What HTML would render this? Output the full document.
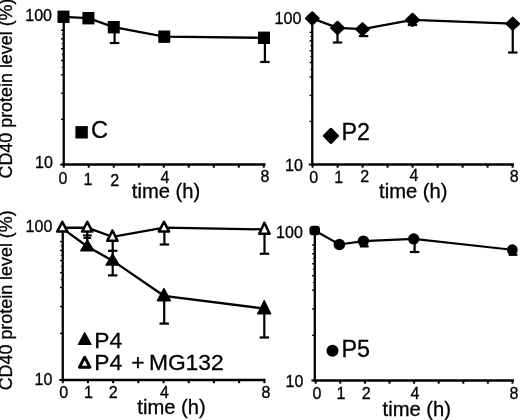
<!DOCTYPE html>
<html><head><meta charset="utf-8"><title>CD40 protein level</title>
<style>
html,body{margin:0;padding:0;background:#fff;}
body{width:520px;height:420px;overflow:hidden;}
svg{display:block;filter:blur(0.35px);}
svg text{font-family:"Liberation Sans", Arial, Helvetica, sans-serif;fill:#000;stroke:#000;stroke-width:0.3px;}
</style></head><body>
<svg width="520" height="420" viewBox="0 0 520 420">
<rect width="520" height="420" fill="#fff"/>
<line x1="63.75" y1="16" x2="63.75" y2="165.5" stroke="#000" stroke-width="2.3" />
<line x1="62.75" y1="164.5" x2="265.5" y2="164.5" stroke="#000" stroke-width="2.3" />
<line x1="63.75" y1="164.5" x2="63.75" y2="167.7" stroke="#000" stroke-width="2" />
<line x1="88.75" y1="164.5" x2="88.75" y2="167.7" stroke="#000" stroke-width="2" />
<line x1="113.75" y1="164.5" x2="113.75" y2="167.7" stroke="#000" stroke-width="2" />
<line x1="138.75" y1="164.5" x2="138.75" y2="167.7" stroke="#000" stroke-width="2" />
<line x1="163.75" y1="164.5" x2="163.75" y2="167.7" stroke="#000" stroke-width="2" />
<line x1="188.75" y1="164.5" x2="188.75" y2="167.7" stroke="#000" stroke-width="2" />
<line x1="213.75" y1="164.5" x2="213.75" y2="167.7" stroke="#000" stroke-width="2" />
<line x1="238.75" y1="164.5" x2="238.75" y2="167.7" stroke="#000" stroke-width="2" />
<line x1="263.75" y1="164.5" x2="263.75" y2="167.7" stroke="#000" stroke-width="2" />
<line x1="61.05" y1="119.3475606417308" x2="63.75" y2="119.3475606417308" stroke="#000" stroke-width="1.4" />
<line x1="61.05" y1="93.28605430148997" x2="63.75" y2="93.28605430148997" stroke="#000" stroke-width="1.4" />
<line x1="61.05" y1="74.79512128346157" x2="63.75" y2="74.79512128346157" stroke="#000" stroke-width="1.4" />
<line x1="61.75" y1="67.22454796124914" x2="63.75" y2="67.22454796124914" stroke="#000" stroke-width="1.0" />
<line x1="61.05" y1="60.45243935826922" x2="63.75" y2="60.45243935826922" stroke="#000" stroke-width="1.4" />
<line x1="61.75" y1="54.326321954851906" x2="63.75" y2="54.326321954851906" stroke="#000" stroke-width="1.0" />
<line x1="61.05" y1="48.73361494322074" x2="63.75" y2="48.73361494322074" stroke="#000" stroke-width="1.4" />
<line x1="61.75" y1="43.58882321685738" x2="63.75" y2="43.58882321685738" stroke="#000" stroke-width="1.0" />
<line x1="61.05" y1="38.82549007788999" x2="63.75" y2="38.82549007788999" stroke="#000" stroke-width="1.4" />
<line x1="61.75" y1="34.39093301802839" x2="63.75" y2="34.39093301802839" stroke="#000" stroke-width="1.0" />
<line x1="61.05" y1="30.24268192519235" x2="63.75" y2="30.24268192519235" stroke="#000" stroke-width="1.4" />
<line x1="60.35" y1="164.5" x2="63.75" y2="164.5" stroke="#000" stroke-width="2" />
<polyline points="63.5,16.8 88.4,18.2 113.75,27.2 164.25,36.7 264,37.8" fill="none" stroke="#000" stroke-width="2.3"/>
<line x1="114.6" y1="27" x2="114.6" y2="43" stroke="#000" stroke-width="2.2" />
<line x1="109.85" y1="43" x2="119.35" y2="43" stroke="#000" stroke-width="2.2" />
<line x1="264.9" y1="37.5" x2="264.9" y2="62" stroke="#000" stroke-width="2.2" />
<line x1="260.15" y1="62" x2="269.65" y2="62" stroke="#000" stroke-width="2.2" />
<rect x="57.5" y="10.600000000000001" width="12" height="12.4" fill="#000"/>
<rect x="82.4" y="12.0" width="12" height="12.4" fill="#000"/>
<rect x="107.75" y="21.0" width="12" height="12.4" fill="#000"/>
<rect x="158.25" y="30.500000000000004" width="12" height="12.4" fill="#000"/>
<rect x="258.0" y="31.599999999999998" width="12" height="12.4" fill="#000"/>
<text x="52" y="21.3" font-size="16" text-anchor="end" >100</text>
<text x="52.8" y="168" font-size="16" text-anchor="end" >10</text>
<text x="63" y="183.8" font-size="16" text-anchor="middle" >0</text>
<text x="88" y="185.3" font-size="16" text-anchor="middle" >1</text>
<text x="114.75" y="185.9" font-size="16" text-anchor="middle" >2</text>
<text x="165" y="183" font-size="16" text-anchor="middle" >4</text>
<text x="265" y="181.8" font-size="16" text-anchor="middle" >8</text>
<text x="131.8" y="198.3" font-size="20.2" text-anchor="start" >time (h)</text>
<rect x="75.4" y="126.1" width="12.4" height="12.4" fill="#000"/>
<text x="91" y="138.4" font-size="23.6" text-anchor="start" >C</text>
<text transform="translate(12.4,178.5) rotate(-90)" font-size="17.9">CD40 protein level (%)</text>
<line x1="312.25" y1="18" x2="312.25" y2="165.5" stroke="#000" stroke-width="2.3" />
<line x1="311.25" y1="164.5" x2="514.0" y2="164.5" stroke="#000" stroke-width="2.3" />
<line x1="312.6" y1="164.5" x2="312.6" y2="167.7" stroke="#000" stroke-width="2" />
<line x1="337.6" y1="164.5" x2="337.6" y2="167.7" stroke="#000" stroke-width="2" />
<line x1="362.6" y1="164.5" x2="362.6" y2="167.7" stroke="#000" stroke-width="2" />
<line x1="387.6" y1="164.5" x2="387.6" y2="167.7" stroke="#000" stroke-width="2" />
<line x1="412.6" y1="164.5" x2="412.6" y2="167.7" stroke="#000" stroke-width="2" />
<line x1="437.6" y1="164.5" x2="437.6" y2="167.7" stroke="#000" stroke-width="2" />
<line x1="462.6" y1="164.5" x2="462.6" y2="167.7" stroke="#000" stroke-width="2" />
<line x1="487.6" y1="164.5" x2="487.6" y2="167.7" stroke="#000" stroke-width="2" />
<line x1="512.6" y1="164.5" x2="512.6" y2="167.7" stroke="#000" stroke-width="2" />
<line x1="309.55" y1="121.44756064173079" x2="312.25" y2="121.44756064173079" stroke="#000" stroke-width="1.4" />
<line x1="309.55" y1="95.38605430148996" x2="312.25" y2="95.38605430148996" stroke="#000" stroke-width="1.4" />
<line x1="309.55" y1="76.89512128346156" x2="312.25" y2="76.89512128346156" stroke="#000" stroke-width="1.4" />
<line x1="310.25" y1="69.32454796124914" x2="312.25" y2="69.32454796124914" stroke="#000" stroke-width="1.0" />
<line x1="309.55" y1="62.55243935826922" x2="312.25" y2="62.55243935826922" stroke="#000" stroke-width="1.4" />
<line x1="310.25" y1="56.42632195485191" x2="312.25" y2="56.42632195485191" stroke="#000" stroke-width="1.0" />
<line x1="309.55" y1="50.833614943220745" x2="312.25" y2="50.833614943220745" stroke="#000" stroke-width="1.4" />
<line x1="310.25" y1="45.68882321685738" x2="312.25" y2="45.68882321685738" stroke="#000" stroke-width="1.0" />
<line x1="309.55" y1="40.92549007788999" x2="312.25" y2="40.92549007788999" stroke="#000" stroke-width="1.4" />
<line x1="310.25" y1="36.490933018028386" x2="312.25" y2="36.490933018028386" stroke="#000" stroke-width="1.0" />
<line x1="309.55" y1="32.34268192519235" x2="312.25" y2="32.34268192519235" stroke="#000" stroke-width="1.4" />
<line x1="308.85" y1="164.5" x2="312.25" y2="164.5" stroke="#000" stroke-width="2" />
<polyline points="312.3,18.4 337.5,27.9 362.5,29.2 412.5,19.9 512.75,23.75" fill="none" stroke="#000" stroke-width="2.3"/>
<line x1="337.5" y1="27.5" x2="337.5" y2="42.5" stroke="#000" stroke-width="2.2" />
<line x1="332.8" y1="42.5" x2="342.2" y2="42.5" stroke="#000" stroke-width="2.2" />
<line x1="363.6" y1="28.75" x2="363.6" y2="36.1" stroke="#000" stroke-width="2.2" />
<line x1="358.90000000000003" y1="36.1" x2="368.3" y2="36.1" stroke="#000" stroke-width="2.2" />
<line x1="412.5" y1="19.5" x2="412.5" y2="25" stroke="#000" stroke-width="2.2" />
<line x1="407.8" y1="25" x2="417.2" y2="25" stroke="#000" stroke-width="2.2" />
<line x1="512.75" y1="23.75" x2="512.75" y2="52.5" stroke="#000" stroke-width="2.2" />
<line x1="508.05" y1="52.5" x2="517.45" y2="52.5" stroke="#000" stroke-width="2.2" />
<polygon points="306.0,18.4 312.3,12.399999999999999 318.6,18.4 312.3,24.4" fill="#000" stroke="#000" stroke-width="2.2" stroke-linejoin="round"/>
<polygon points="331.2,27.9 337.5,21.9 343.8,27.9 337.5,33.9" fill="#000" stroke="#000" stroke-width="2.2" stroke-linejoin="round"/>
<polygon points="356.2,29.2 362.5,23.2 368.8,29.2 362.5,35.2" fill="#000" stroke="#000" stroke-width="2.2" stroke-linejoin="round"/>
<polygon points="406.2,19.9 412.5,13.899999999999999 418.8,19.9 412.5,25.9" fill="#000" stroke="#000" stroke-width="2.2" stroke-linejoin="round"/>
<polygon points="506.45,23.75 512.75,17.75 519.05,23.75 512.75,29.75" fill="#000" stroke="#000" stroke-width="2.2" stroke-linejoin="round"/>
<text x="301.3" y="23.5" font-size="16" text-anchor="end" >100</text>
<text x="302.8" y="171" font-size="16" text-anchor="end" >10</text>
<text x="313.75" y="182.5" font-size="16" text-anchor="middle" >0</text>
<text x="338.75" y="182.5" font-size="16" text-anchor="middle" >1</text>
<text x="364.8" y="182.3" font-size="16" text-anchor="middle" >2</text>
<text x="414" y="181.4" font-size="16" text-anchor="middle" >4</text>
<text x="514.2" y="182" font-size="16" text-anchor="middle" >8</text>
<text x="379.1" y="198.3" font-size="20.2" text-anchor="start" >time (h)</text>
<polygon points="323.9,135.9 330.9,128.9 337.9,135.9 330.9,142.9" fill="#000" stroke="#000" stroke-width="2.2" stroke-linejoin="round"/>
<text x="341.5" y="140.4" font-size="23.3" text-anchor="start" >P2</text>
<line x1="62.75" y1="226" x2="62.75" y2="381" stroke="#000" stroke-width="2.3" />
<line x1="61.75" y1="380" x2="265.5" y2="380" stroke="#000" stroke-width="2.3" />
<line x1="62.75" y1="380" x2="62.75" y2="383.2" stroke="#000" stroke-width="2" />
<line x1="87.95" y1="380" x2="87.95" y2="383.2" stroke="#000" stroke-width="2" />
<line x1="113.15" y1="380" x2="113.15" y2="383.2" stroke="#000" stroke-width="2" />
<line x1="138.35" y1="380" x2="138.35" y2="383.2" stroke="#000" stroke-width="2" />
<line x1="163.55" y1="380" x2="163.55" y2="383.2" stroke="#000" stroke-width="2" />
<line x1="188.75" y1="380" x2="188.75" y2="383.2" stroke="#000" stroke-width="2" />
<line x1="213.95" y1="380" x2="213.95" y2="383.2" stroke="#000" stroke-width="2" />
<line x1="239.15" y1="380" x2="239.15" y2="383.2" stroke="#000" stroke-width="2" />
<line x1="264.35" y1="380" x2="264.35" y2="383.2" stroke="#000" stroke-width="2" />
<line x1="60.05" y1="333.3929256612429" x2="62.75" y2="333.3929256612429" stroke="#000" stroke-width="1.4" />
<line x1="60.05" y1="306.5390086552515" x2="62.75" y2="306.5390086552515" stroke="#000" stroke-width="1.4" />
<line x1="60.05" y1="287.48585132248576" x2="62.75" y2="287.48585132248576" stroke="#000" stroke-width="1.4" />
<line x1="60.75" y1="279.68509164926013" x2="62.75" y2="279.68509164926013" stroke="#000" stroke-width="1.0" />
<line x1="60.05" y1="272.70707433875714" x2="62.75" y2="272.70707433875714" stroke="#000" stroke-width="1.4" />
<line x1="60.75" y1="266.39468985212784" x2="62.75" y2="266.39468985212784" stroke="#000" stroke-width="1.0" />
<line x1="60.05" y1="260.6319343164944" x2="62.75" y2="260.6319343164944" stroke="#000" stroke-width="1.4" />
<line x1="60.75" y1="255.33071311196454" x2="62.75" y2="255.33071311196454" stroke="#000" stroke-width="1.0" />
<line x1="60.05" y1="250.42254889782583" x2="62.75" y2="250.42254889782583" stroke="#000" stroke-width="1.4" />
<line x1="60.75" y1="245.85315733276576" x2="62.75" y2="245.85315733276576" stroke="#000" stroke-width="1.0" />
<line x1="60.05" y1="241.5787769837286" x2="62.75" y2="241.5787769837286" stroke="#000" stroke-width="1.4" />
<line x1="59.35" y1="380" x2="62.75" y2="380" stroke="#000" stroke-width="2" />
<polyline points="62.3,228.38 87.3,246.507 112.6,260.676 163.9,295.814 264.2,308.536" fill="none" stroke="#000" stroke-width="2.3"/>
<line x1="112.7" y1="260" x2="112.7" y2="275.4" stroke="#000" stroke-width="2.2" />
<line x1="108.0" y1="275.4" x2="117.4" y2="275.4" stroke="#000" stroke-width="2.2" />
<line x1="164.2" y1="295" x2="164.2" y2="323.6" stroke="#000" stroke-width="2.2" />
<line x1="159.5" y1="323.6" x2="168.89999999999998" y2="323.6" stroke="#000" stroke-width="2.2" />
<line x1="264.3" y1="308" x2="264.3" y2="337.5" stroke="#000" stroke-width="2.2" />
<line x1="259.6" y1="337.5" x2="269.0" y2="337.5" stroke="#000" stroke-width="2.2" />
<line x1="82.89999999999999" y1="235.4" x2="91.7" y2="235.4" stroke="#000" stroke-width="1.9" />
<polygon points="87.3,240.14999999999998 80.8,250.70000000000002 93.8,250.70000000000002" fill="#000" stroke="#000" stroke-width="1.4" stroke-linejoin="round"/>
<polygon points="112.6,253.99999999999997 106.1,265.1 119.1,265.1" fill="#000" stroke="#000" stroke-width="1.4" stroke-linejoin="round"/>
<polygon points="163.9,288.5 157.4,300.7 170.4,300.7" fill="#000" stroke="#000" stroke-width="1.4" stroke-linejoin="round"/>
<polygon points="264.2,300.7 257.7,313.8 270.7,313.8" fill="#000" stroke="#000" stroke-width="1.4" stroke-linejoin="round"/>
<polyline points="62.3,227.76000000000002 87.3,227.76000000000002 112.4,236.766 164.0,227.718 264.4,229.414" fill="none" stroke="#000" stroke-width="2.3"/>
<line x1="87.3" y1="230" x2="87.3" y2="237.9" stroke="#000" stroke-width="2.2" />
<line x1="83.5" y1="237.9" x2="91.1" y2="237.9" stroke="#000" stroke-width="2.2" />
<line x1="87.3" y1="237" x2="87.3" y2="242" stroke="#000" stroke-width="2.2" />
<line x1="112.7" y1="240" x2="112.7" y2="250.8" stroke="#000" stroke-width="2.2" />
<line x1="108.0" y1="250.8" x2="117.4" y2="250.8" stroke="#000" stroke-width="2.2" />
<line x1="112.7" y1="250" x2="112.7" y2="256" stroke="#000" stroke-width="2.2" />
<line x1="164.4" y1="230" x2="164.4" y2="244.5" stroke="#000" stroke-width="2.2" />
<line x1="159.70000000000002" y1="244.5" x2="169.1" y2="244.5" stroke="#000" stroke-width="2.2" />
<line x1="264.5" y1="232" x2="264.5" y2="253.75" stroke="#000" stroke-width="2.2" />
<line x1="259.8" y1="253.75" x2="269.2" y2="253.75" stroke="#000" stroke-width="2.2" />
<polygon points="62.3,221.85000000000002 57.15,231.55 67.45,231.55" fill="#fff" stroke="#000" stroke-width="2.5" stroke-linejoin="round"/>
<polygon points="87.3,221.85000000000002 82.14999999999999,231.55 92.45,231.55" fill="#fff" stroke="#000" stroke-width="2.5" stroke-linejoin="round"/>
<polygon points="112.4,230.45000000000002 107.25,240.85 117.55000000000001,240.85" fill="#fff" stroke="#000" stroke-width="2.5" stroke-linejoin="round"/>
<polygon points="164.0,221.75 158.85,231.55 169.15,231.55" fill="#fff" stroke="#000" stroke-width="2.5" stroke-linejoin="round"/>
<polygon points="264.4,222.75 259.25,233.75 269.54999999999995,233.75" fill="#fff" stroke="#000" stroke-width="2.5" stroke-linejoin="round"/>
<text x="52.3" y="232" font-size="16" text-anchor="end" >100</text>
<text x="52.4" y="385.2" font-size="16" text-anchor="end" >10</text>
<text x="63.75" y="398" font-size="16" text-anchor="middle" >0</text>
<text x="88.5" y="397.5" font-size="16" text-anchor="middle" >1</text>
<text x="113.3" y="397.8" font-size="16" text-anchor="middle" >2</text>
<text x="164.5" y="398" font-size="16" text-anchor="middle" >4</text>
<text x="266" y="397.6" font-size="16" text-anchor="middle" >8</text>
<text x="137.3" y="414" font-size="20.2" text-anchor="start" >time (h)</text>
<polygon points="84.7,332.79999999999995 78.5,344.40000000000003 90.9,344.40000000000003" fill="#000" stroke="#000" stroke-width="1.4" stroke-linejoin="round"/>
<text x="94.3" y="347.8" font-size="22.8" text-anchor="start" >P4</text>
<polygon points="84.7,357.25 79.45,367.25 89.95,367.25" fill="#fff" stroke="#000" stroke-width="2.9" stroke-linejoin="round"/>
<text font-size="22.8" y="369.5"><tspan x="94.3">P4</tspan> <tspan x="131.3">+</tspan> <tspan x="148.9">MG132</tspan></text>
<text transform="translate(12.3,390.3) rotate(-90)" font-size="17.9">CD40 protein level (%)</text>
<line x1="314.8" y1="230" x2="314.8" y2="381.5" stroke="#000" stroke-width="2.3" />
<line x1="313.8" y1="380.5" x2="514.0" y2="380.5" stroke="#000" stroke-width="2.3" />
<line x1="315.7" y1="380.5" x2="315.7" y2="383.7" stroke="#000" stroke-width="2" />
<line x1="340.3" y1="380.5" x2="340.3" y2="383.7" stroke="#000" stroke-width="2" />
<line x1="364.9" y1="380.5" x2="364.9" y2="383.7" stroke="#000" stroke-width="2" />
<line x1="389.5" y1="380.5" x2="389.5" y2="383.7" stroke="#000" stroke-width="2" />
<line x1="414.1" y1="380.5" x2="414.1" y2="383.7" stroke="#000" stroke-width="2" />
<line x1="438.7" y1="380.5" x2="438.7" y2="383.7" stroke="#000" stroke-width="2" />
<line x1="463.3" y1="380.5" x2="463.3" y2="383.7" stroke="#000" stroke-width="2" />
<line x1="487.9" y1="380.5" x2="487.9" y2="383.7" stroke="#000" stroke-width="2" />
<line x1="512.5" y1="380.5" x2="512.5" y2="383.7" stroke="#000" stroke-width="2" />
<line x1="312.1" y1="335.3455006504028" x2="314.8" y2="335.3455006504028" stroke="#000" stroke-width="1.4" />
<line x1="312.1" y1="308.93181179205067" x2="314.8" y2="308.93181179205067" stroke="#000" stroke-width="1.4" />
<line x1="312.1" y1="290.1910013008056" x2="314.8" y2="290.1910013008056" stroke="#000" stroke-width="1.4" />
<line x1="312.8" y1="282.51812293369846" x2="314.8" y2="282.51812293369846" stroke="#000" stroke-width="1.0" />
<line x1="312.1" y1="275.6544993495972" x2="314.8" y2="275.6544993495972" stroke="#000" stroke-width="1.4" />
<line x1="312.8" y1="269.4455965758634" x2="314.8" y2="269.4455965758634" stroke="#000" stroke-width="1.0" />
<line x1="312.1" y1="263.7773124424535" x2="314.8" y2="263.7773124424535" stroke="#000" stroke-width="1.4" />
<line x1="312.8" y1="258.56299650357164" x2="314.8" y2="258.56299650357164" stroke="#000" stroke-width="1.0" />
<line x1="312.1" y1="253.73529399786148" x2="314.8" y2="253.73529399786148" stroke="#000" stroke-width="1.4" />
<line x1="312.8" y1="249.24081049124499" x2="314.8" y2="249.24081049124499" stroke="#000" stroke-width="1.0" />
<line x1="312.1" y1="245.03650195120846" x2="314.8" y2="245.03650195120846" stroke="#000" stroke-width="1.4" />
<line x1="311.40000000000003" y1="380.5" x2="314.8" y2="380.5" stroke="#000" stroke-width="2" />
<polyline points="314.7,230.5 339.4,244.5 363.4,241.1 413.7,238.9 512.3,249.8" fill="none" stroke="#000" stroke-width="2.1"/>
<line x1="364.3" y1="241.25" x2="364.3" y2="246.4" stroke="#000" stroke-width="2.2" />
<line x1="359.90000000000003" y1="246.4" x2="368.7" y2="246.4" stroke="#000" stroke-width="2.2" />
<line x1="414.6" y1="238.75" x2="414.6" y2="252.0" stroke="#000" stroke-width="2.2" />
<line x1="409.90000000000003" y1="252.0" x2="419.3" y2="252.0" stroke="#000" stroke-width="2.2" />
<line x1="513.0" y1="250" x2="513.0" y2="254.8" stroke="#000" stroke-width="2.2" />
<line x1="508.6" y1="254.8" x2="517.4" y2="254.8" stroke="#000" stroke-width="2.2" />
<rect x="309.4" y="225.7" width="10.6" height="9.6" rx="3.4" fill="#000"/>
<circle cx="339.4" cy="244.5" r="5.8" fill="#000"/>
<circle cx="363.4" cy="241.1" r="5.7" fill="#000"/>
<circle cx="413.7" cy="238.9" r="5.65" fill="#000"/>
<circle cx="512.3" cy="249.8" r="5.45" fill="#000"/>
<text x="302.8" y="237.7" font-size="16" text-anchor="end" >100</text>
<text x="303.3" y="386.6" font-size="16" text-anchor="end" >10</text>
<text x="317" y="399" font-size="16" text-anchor="middle" >0</text>
<text x="341" y="399" font-size="16" text-anchor="middle" >1</text>
<text x="366.1" y="399" font-size="16" text-anchor="middle" >2</text>
<text x="415" y="398.9" font-size="16" text-anchor="middle" >4</text>
<text x="514" y="398.8" font-size="16" text-anchor="middle" >8</text>
<text x="382.6" y="415.8" font-size="20.2" text-anchor="start" >time (h)</text>
<circle cx="332.5" cy="350.8" r="6" fill="#000"/>
<text x="341.4" y="356.7" font-size="23.3" text-anchor="start" >P5</text>
</svg>
</body></html>
